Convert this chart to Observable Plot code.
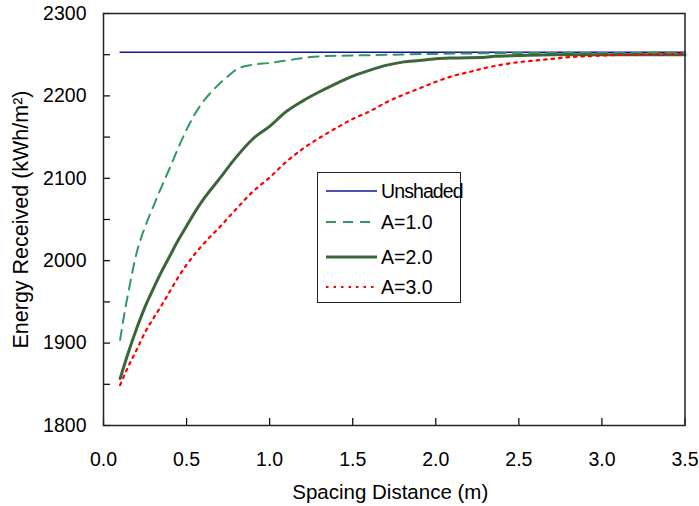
<!DOCTYPE html>
<html><head><meta charset="utf-8">
<script src="https://cdn.jsdelivr.net/npm/d3@7"></script>
<script src="https://cdn.jsdelivr.net/npm/@observablehq/plot@0.6"></script>
<style>
body{margin:0;background:#fff;}
#wrap{position:relative;width:699px;height:506px;font-family:"Liberation Sans",Arial,sans-serif;}
#legend{position:absolute;left:317px;top:172px;width:144px;height:131px;border:1.5px solid #222;background:#fff;box-sizing:border-box;}
#legend .row{position:absolute;left:0;height:24px;width:160px;}
#legend svg{position:absolute;left:6px;top:0;}
#legend span{position:absolute;left:63px;top:0;line-height:24px;font-size:19.5px;color:#000;white-space:nowrap;}
</style>
</head><body>
<div id="wrap"></div>
<script>
// ---- data ----
const seriesNames = ["Unshaded", "A=1.0", "A=2.0", "A=3.0"];
const xUnshaded = [0.1, 3.5];
const yUnshaded = [2253, 2253];
const xA1 = [0.1, 0.125, 0.15, 0.2, 0.25, 0.3, 0.35, 0.4, 0.45, 0.5, 0.55, 0.6, 0.65, 0.7, 0.75, 0.8, 0.85, 0.9, 1.0, 1.1, 1.2, 1.3, 1.5, 2.0, 2.5, 3.0, 3.5];
const yA1 = [1904, 1935, 1962, 2010, 2041, 2066, 2090, 2113, 2137, 2159, 2178, 2193, 2205, 2215, 2224, 2232, 2236, 2238, 2240, 2243, 2246, 2248, 2249, 2251, 2252, 2252, 2253];
const xA2 = [0.1, 0.15, 0.2, 0.25, 0.3, 0.35, 0.4, 0.45, 0.5, 0.55, 0.6, 0.7, 0.8, 0.9, 1.0, 1.1, 1.2, 1.3, 1.4, 1.5, 1.6, 1.7, 1.8, 1.9, 2.0, 2.1, 2.3, 2.35, 2.5, 2.7, 3.0, 3.5];
const yA2 = [1857, 1889, 1918, 1944, 1966, 1987, 2006, 2025, 2042, 2059, 2074, 2100, 2126, 2148, 2163, 2181, 2194, 2205, 2215, 2224, 2231, 2237, 2241, 2243, 2245, 2246, 2247, 2248, 2249, 2250, 2250, 2250];
const xA3 = [0.1, 0.15, 0.2, 0.25, 0.3, 0.35, 0.4, 0.45, 0.5, 0.6, 0.7, 0.8, 0.9, 1.0, 1.1, 1.2, 1.3, 1.4, 1.5, 1.6, 1.7, 1.8, 1.9, 2.0, 2.1, 2.2, 2.3, 2.4, 2.5, 2.6, 2.7, 2.8, 2.9, 3.0, 3.2, 3.5];
const yA3 = [1849, 1872, 1892, 1913, 1930, 1946, 1963, 1980, 1995, 2020, 2041, 2063, 2084, 2101, 2120, 2136, 2149, 2161, 2172, 2181, 2192, 2201, 2209, 2217, 2224, 2229, 2234, 2238, 2241, 2243, 2245, 2247, 2248, 2249, 2250, 2251];
const xTicks = [0, 0.5, 1.0, 1.5, 2.0, 2.5, 3.0, 3.5];
const yTickLabels = [1800, 1900, 2000, 2100, 2200, 2300];
const yMinorTicks = [1800, 1850, 1900, 1950, 2000, 2050, 2100, 2150, 2200, 2250, 2300];
const xLabel = "Spacing Distance (m)";
const yLabel = "Energy Received (kWh/m²)";

const styles = [
  {stroke: "#14149a", strokeWidth: 1.5, dash: null},
  {stroke: "#2e9a62", strokeWidth: 2, dash: "10,7"},
  {stroke: "#3b663b", strokeWidth: 3, dash: null},
  {stroke: "#ff0000", strokeWidth: 2.2, dash: "2.5,5"}
];
const xs = [xUnshaded, xA1, xA2, xA3];
const ys = [yUnshaded, yA1, yA2, yA3];
const table = xs.map((arr, i) => arr.map((x, j) => ({x, y: ys[i][j], s: seriesNames[i]})));

const lineMarks = table.map((d, i) => Plot.line(d, {
  x: "x", y: "y", stroke: styles[i].stroke, strokeWidth: styles[i].strokeWidth,
  strokeDasharray: styles[i].dash, curve: "monotone-x"
}));

const chart = Plot.plot({
  width: 699, height: 506,
  marginLeft: 103, marginRight: 14.5, marginTop: 13, marginBottom: 81,
  style: {fontFamily: "'Liberation Sans', Arial, sans-serif", fontSize: "19.5px", color: "#000", background: "#fff", overflow: "visible"},
  x: {domain: [0, 3.5]},
  y: {domain: [1800, 2300]},
  marks: [
    ...lineMarks,
    Plot.axisY({ticks: yMinorTicks, tickSize: -7, tickFormat: () => "", label: null, strokeWidth: 1.2}),
    Plot.axisY({ticks: yTickLabels, tickSize: 0, tickPadding: 17, tickFormat: d3.format("d"), label: null, fontSize: 19.5}),
    Plot.axisX({ticks: xTicks, tickSize: -7, tickFormat: () => "", label: null, strokeWidth: 1.2}),
    Plot.axisX({ticks: xTicks, tickSize: 0, tickPadding: 27, tickFormat: d3.format(".1f"), label: null, fontSize: 19.5}),
    Plot.frame({stroke: "#222", strokeWidth: 1.5}),
    Plot.text([xLabel], {frameAnchor: "bottom", dy: 67, dx: -4, textAnchor: "middle", lineAnchor: "middle", fontSize: 20.5, fill: "#000"}),
    Plot.text([yLabel], {frameAnchor: "left", rotate: -90, dx: -82, textAnchor: "middle", lineAnchor: "middle", fontSize: 21.5, fill: "#000"})
  ]
});
const wrap = document.getElementById("wrap");
wrap.appendChild(chart);

// legend
const legend = document.createElement("div");
legend.id = "legend";
const rowTops = [6, 37, 72, 102];
seriesNames.forEach((name, i) => {
  const row = document.createElement("div");
  row.className = "row";
  row.style.top = rowTops[i] + "px";
  const st = styles[i];
  const ls = i === 0 ? "letter-spacing:-0.9px;" : "";
  row.innerHTML = `<svg width="54" height="24"><line x1="2" y1="12" x2="53" y2="12" stroke="${st.stroke}" stroke-width="${st.strokeWidth}" ${st.dash ? `stroke-dasharray="${st.dash}"` : ""}/></svg><span style="${ls}">${name}</span>`;
  legend.appendChild(row);
});
wrap.appendChild(legend);
</script>
</body></html>
